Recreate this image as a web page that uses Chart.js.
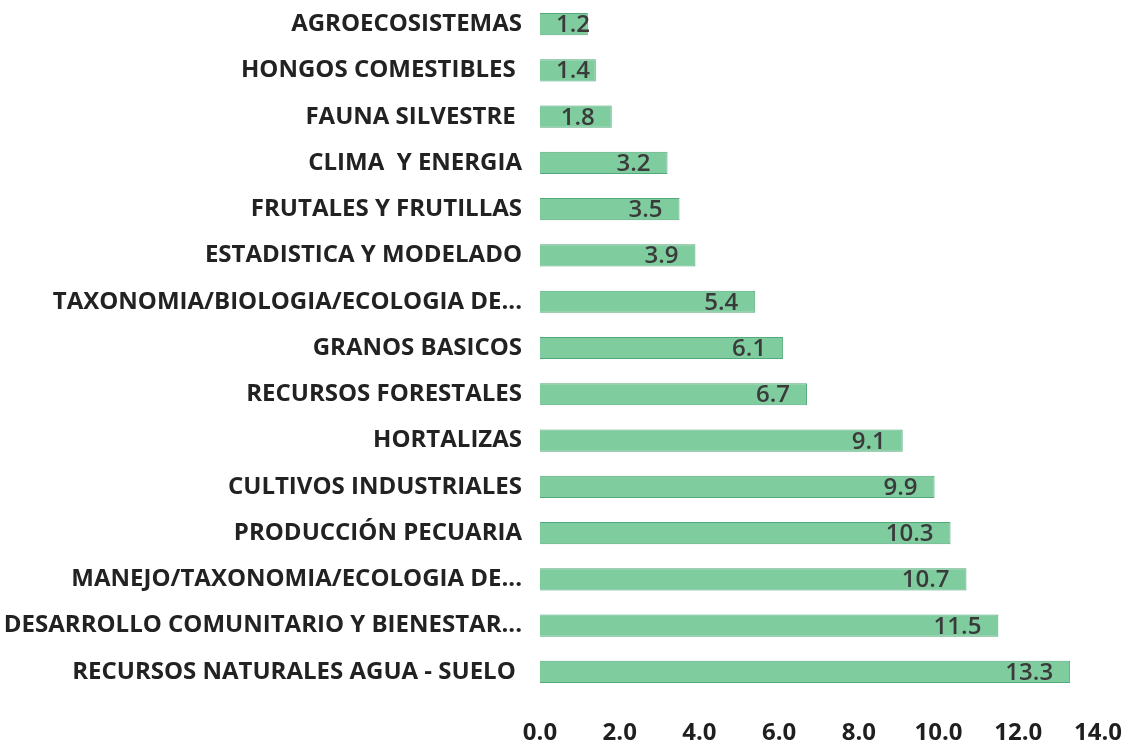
<!DOCTYPE html>
<html>
<head>
<meta charset="utf-8">
<script src="https://cdn.jsdelivr.net/npm/chart.js@4.4.0/dist/chart.umd.min.js"></script>
<style>
    body { margin: 0; background: #ffffff; }
    #wrap { width: 1125px; height: 742px; position: relative; }
</style>
</head>
<body>
<div id="wrap"><canvas id="areasChart"></canvas></div>
<script>
// Categories (top to bottom) and their values
const areas = [
    'AGROECOSISTEMAS',
    'HONGOS COMESTIBLES ',
    'FAUNA SILVESTRE ',
    'CLIMA  Y ENERGIA',
    'FRUTALES Y FRUTILLAS',
    'ESTADISTICA Y MODELADO',
    'TAXONOMIA/BIOLOGIA/ECOLOGIA DE...',
    'GRANOS BASICOS',
    'RECURSOS FORESTALES',
    'HORTALIZAS',
    'CULTIVOS INDUSTRIALES',
    'PRODUCCIÓN PECUARIA',
    'MANEJO/TAXONOMIA/ECOLOGIA DE...',
    'DESARROLLO COMUNITARIO Y BIENESTAR...',
    'RECURSOS NATURALES AGUA - SUELO '
];
const percentages = [1.2, 1.4, 1.8, 3.2, 3.5, 3.9, 5.4, 6.1, 6.7, 9.1, 9.9, 10.3, 10.7, 11.5, 13.3];
const xTicks = [0, 2, 4, 6, 8, 10, 12, 14];

const fontFamily = "'Open Sans', 'Noto Sans', sans-serif";

// draws the value near the inner end of each bar (pushed right when the bar is short)
const valueLabels = {
    id: 'valueLabels',
    afterDatasetsDraw(chart) {
        const ctx = chart.ctx;
        const meta = chart.getDatasetMeta(0);
        ctx.save();
        ctx.font = '600 24px ' + fontFamily;
        ctx.fillStyle = '#3a3a3a';
        ctx.textAlign = 'right';
        ctx.textBaseline = 'alphabetic';
        meta.data.forEach((bar, i) => {
            const txt = percentages[i].toFixed(1);
            const w = ctx.measureText(txt).width;
            const right = Math.max(bar.x - 17, bar.base + 16 + w);
            ctx.fillText(txt, right, bar.y + 8);
        });
        ctx.restore();
    }
};

const ctx = document.getElementById('areasChart').getContext('2d');
new Chart(ctx, {
    type: 'bar',
    data: {
        labels: areas,
        datasets: [{
            data: percentages,
            backgroundColor: '#7fcc9f',
            borderColor: '#52a97a',
            borderWidth: 1,
            barPercentage: 0.48,
            categoryPercentage: 1.0
        }]
    },
    options: {
        indexAxis: 'y',
        responsive: true,
        maintainAspectRatio: false,
        animation: false,
        layout: { padding: { top: 1, right: 27, bottom: 0, left: 0 } },
        plugins: {
            legend: { display: false },
            tooltip: { enabled: false }
        },
        scales: {
            x: {
                min: 0,
                max: 14,
                afterBuildTicks: (axis) => { axis.ticks = xTicks.map(v => ({ value: v })); },
                afterFit: (axis) => {
                    axis.paddingRight = 0;
                    axis.paddingLeft = 0;
                    axis.height = 47;
                },
                grid: { display: false, drawTicks: false },
                border: { display: false },
                ticks: {
                    padding: 24,
                    color: '#1f1f1f',
                    font: { family: fontFamily, size: 24, weight: 'bold' },
                    callback: (v) => Number(v).toFixed(1)
                }
            },
            y: {
                grid: { display: false },
                border: { display: false },
                afterFit: (axis) => {
                    axis.width = 540;
                    axis.paddingTop = 0;
                    axis.paddingBottom = 0;
                },
                ticks: {
                    padding: 10,
                    color: '#222222',
                    font: { family: fontFamily, size: 24, weight: 'bold' }
                }
            }
        }
    },
    plugins: [valueLabels]
});
</script>
</body>
</html>
